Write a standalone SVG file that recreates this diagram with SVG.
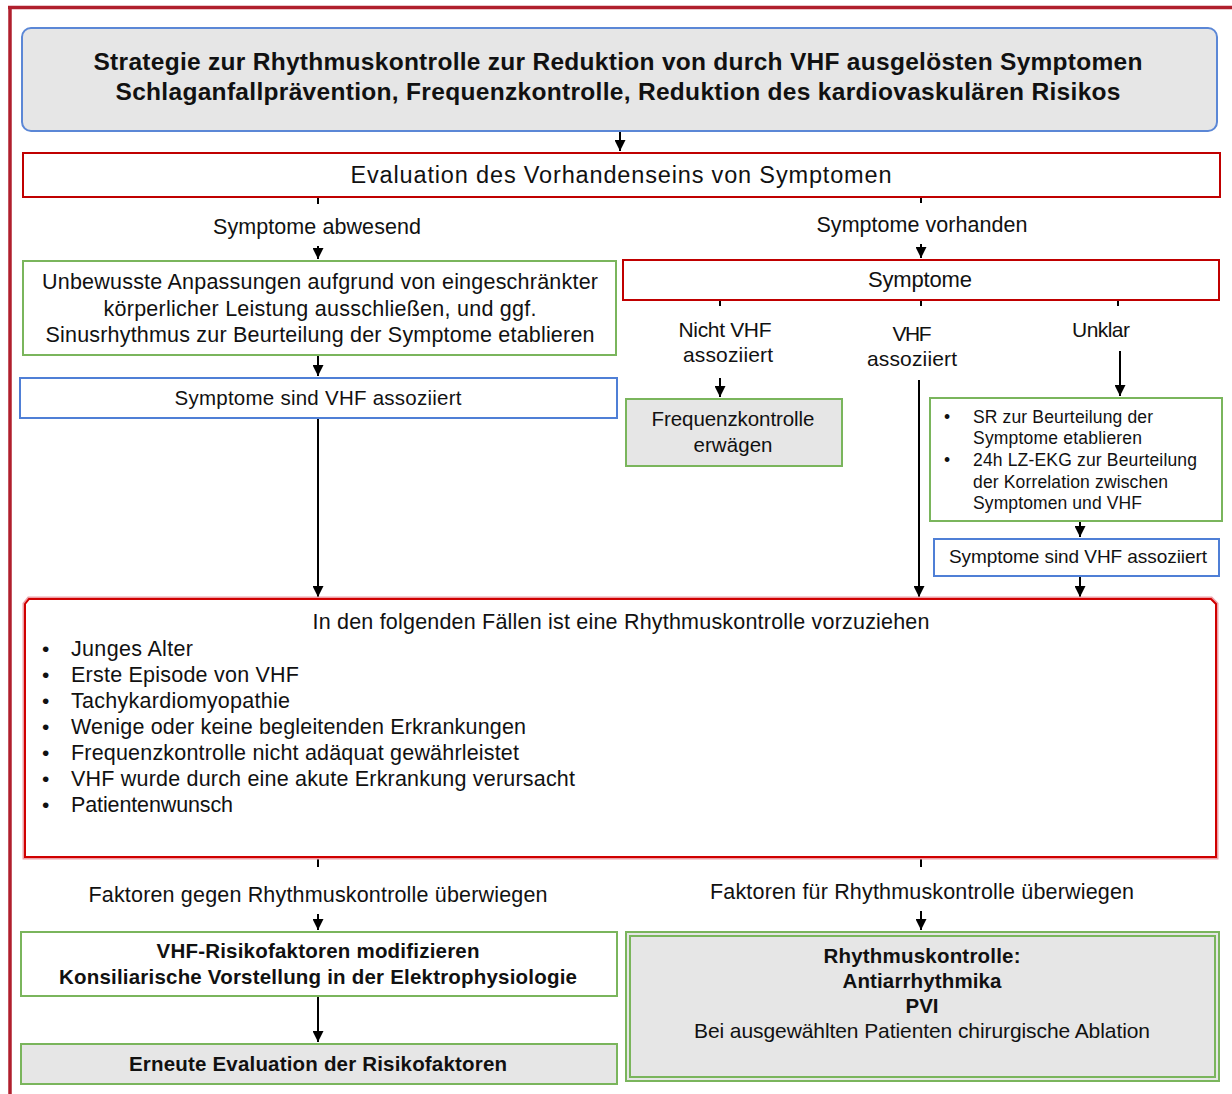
<svg xmlns="http://www.w3.org/2000/svg" width="1232" height="1094" viewBox="0 0 1232 1094">
<defs>
<style>
text{font-family:"Liberation Sans",Arial,sans-serif;fill:#111;}
.b{font-weight:bold;}
.c{text-anchor:middle;}
.red{fill:#fff;stroke:#c00000;stroke-width:2;}
.grn{fill:#fff;stroke:#7ab55c;stroke-width:2;}
.grng{fill:#e6e6e6;stroke:#7ab55c;stroke-width:2;}
.blu{fill:#fff;stroke:#4f7fd6;stroke-width:2;}
.con line{stroke:#000;stroke-width:2;}
.arr{marker-end:url(#ah);}
</style>
<marker id="ah" viewBox="0 0 10 10" refX="10" refY="5" markerWidth="11" markerHeight="11" markerUnits="userSpaceOnUse" orient="auto"><path d="M0,0 L10,5 L0,10 z" fill="#000"/></marker>
</defs>
<rect width="1232" height="1094" fill="#fff"/>
<g id="frame">
<line x1="8" y1="7.5" x2="1232" y2="7.5" stroke="#b01f2d" stroke-width="3.5"/>
<line x1="10" y1="6" x2="10" y2="1094" stroke="#b01f2d" stroke-width="3.5"/>
</g>
<g class="con">
<line class="arr" x1="620" y1="131" x2="620" y2="151"/>
<line x1="318" y1="197" x2="318" y2="204"/>
<line class="arr" x1="318" y1="246" x2="318" y2="259"/>
<line x1="921" y1="197" x2="921" y2="203"/>
<line class="arr" x1="921" y1="244" x2="921" y2="258"/>
<line class="arr" x1="318" y1="355" x2="318" y2="376"/>
<line class="arr" x1="318" y1="418" x2="318" y2="597"/>
<line x1="720" y1="300" x2="720" y2="306"/>
<line x1="921" y1="300" x2="921" y2="306"/>
<line x1="1118" y1="300" x2="1118" y2="306"/>
<line class="arr" x1="720" y1="378" x2="720" y2="397"/>
<line class="arr" x1="919" y1="380" x2="919" y2="597"/>
<line class="arr" x1="1120" y1="351" x2="1120" y2="396"/>
<line class="arr" x1="1080" y1="521" x2="1080" y2="537"/>
<line class="arr" x1="1080" y1="576" x2="1080" y2="597"/>
<line x1="318" y1="858" x2="318" y2="867"/>
<line x1="921" y1="858" x2="921" y2="867"/>
<line class="arr" x1="318" y1="914" x2="318" y2="930"/>
<line class="arr" x1="921" y1="911" x2="921" y2="930"/>
<line class="arr" x1="318" y1="996" x2="318" y2="1042"/>
</g>
<g id="n_top">
<rect x="22" y="28" width="1195" height="103" rx="9" fill="#e6e6e6" stroke="#5b87d6" stroke-width="2"/>
<text class="b c" x="618" y="70" font-size="24.5" textLength="1049">Strategie zur Rhythmuskontrolle zur Reduktion von durch VHF ausgelösten Symptomen</text>
<text class="b c" x="618" y="100" font-size="24.5" textLength="1005">Schlaganfallprävention, Frequenzkontrolle, Reduktion des kardiovaskulären Risikos</text>
</g>
<g id="n_eval">
<rect class="red" x="23" y="153" width="1197" height="44"/>
<text class="c" x="621" y="183" font-size="23.5" textLength="541">Evaluation des Vorhandenseins von Symptomen</text>
</g>
<g id="l_abwesend"><text class="c" x="317" y="234" font-size="21.5" textLength="208">Symptome abwesend</text></g>
<g id="l_vorhanden"><text class="c" x="922" y="232" font-size="21.5" textLength="211">Symptome vorhanden</text></g>
<g id="n_unbewusst">
<rect class="grn" x="23" y="261" width="593" height="94"/>
<text class="c" x="320" y="289" font-size="21.5" textLength="556">Unbewusste Anpassungen aufgrund von eingeschränkter</text>
<text class="c" x="320" y="316" font-size="21.5" textLength="433">körperlicher Leistung ausschließen, und ggf.</text>
<text class="c" x="320" y="342" font-size="21.5" textLength="549">Sinusrhythmus zur Beurteilung der Symptome etablieren</text>
</g>
<g id="n_assoz_l">
<rect class="blu" x="20" y="378" width="597" height="40"/>
<text class="c" x="318" y="405" font-size="20.5" textLength="287">Symptome sind VHF assoziiert</text>
</g>
<g id="n_symptome">
<rect class="red" x="623" y="260" width="596" height="40"/>
<text class="c" x="920" y="287" font-size="22" textLength="104">Symptome</text>
</g>
<g id="l_nicht">
<text class="c" x="725" y="337" font-size="21" textLength="93">Nicht VHF</text>
<text class="c" x="728" y="362" font-size="21" textLength="90">assoziiert</text>
</g>
<g id="l_vhf">
<text class="c" x="912" y="341" font-size="21" textLength="39">VHF</text>
<text class="c" x="912" y="366" font-size="21" textLength="90">assoziiert</text>
</g>
<g id="l_unklar"><text class="c" x="1101" y="337" font-size="21" textLength="58">Unklar</text></g>
<g id="n_freq">
<rect class="grng" x="626" y="399" width="216" height="67"/>
<text class="c" x="733" y="426" font-size="20.5" textLength="163">Frequenzkontrolle</text>
<text class="c" x="733" y="452" font-size="20.5" textLength="79">erwägen</text>
</g>
<g id="n_sr">
<rect class="grn" x="930" y="398" width="292" height="123"/>
<text x="944" y="423" font-size="17.5">•</text>
<text x="973" y="423" font-size="17.5" textLength="180">SR zur Beurteilung der</text>
<text x="973" y="444" font-size="17.5" textLength="169">Symptome etablieren</text>
<text x="944" y="466" font-size="17.5">•</text>
<text x="973" y="466" font-size="17.5" textLength="224">24h LZ-EKG zur Beurteilung</text>
<text x="973" y="488" font-size="17.5" textLength="195">der Korrelation zwischen</text>
<text x="973" y="509" font-size="17.5" textLength="169">Symptomen und VHF</text>
</g>
<g id="n_assoz_r">
<rect class="blu" x="934" y="539" width="285" height="37"/>
<text class="c" x="1078" y="563" font-size="19" textLength="258">Symptome sind VHF assoziiert</text>
</g>
<g id="n_faelle">
<path d="M25,604 L29,599 L1211,599 L1216,604 L1216,857 L25,857 Z" fill="none" stroke="#eea0a8" stroke-width="5"/>
<path d="M25,604 L29,599 L1211,599 L1216,604 L1216,857 L25,857 Z" fill="#fff" stroke="#d00000" stroke-width="2"/>
<text class="c" x="621" y="629" font-size="21.5" textLength="617">In den folgenden Fällen ist eine Rhythmuskontrolle vorzuziehen</text>
<text x="42" y="656" font-size="21">•</text><text x="71" y="656" font-size="21.5" textLength="122">Junges Alter</text>
<text x="42" y="682" font-size="21">•</text><text x="71" y="682" font-size="21.5" textLength="228">Erste Episode von VHF</text>
<text x="42" y="708" font-size="21">•</text><text x="71" y="708" font-size="21.5" textLength="219">Tachykardiomyopathie</text>
<text x="42" y="734" font-size="21">•</text><text x="71" y="734" font-size="21.5" textLength="455">Wenige oder keine begleitenden Erkrankungen</text>
<text x="42" y="760" font-size="21">•</text><text x="71" y="760" font-size="21.5" textLength="448">Frequenzkontrolle nicht adäquat gewährleistet</text>
<text x="42" y="786" font-size="21">•</text><text x="71" y="786" font-size="21.5" textLength="504">VHF wurde durch eine akute Erkrankung verursacht</text>
<text x="42" y="812" font-size="21">•</text><text x="71" y="812" font-size="21.5" textLength="162">Patientenwunsch</text>
</g>
<g id="l_gegen"><text class="c" x="318" y="902" font-size="21.5" textLength="459">Faktoren gegen Rhythmuskontrolle überwiegen</text></g>
<g id="l_fuer"><text class="c" x="922" y="899" font-size="21.5" textLength="424">Faktoren für Rhythmuskontrolle überwiegen</text></g>
<g id="n_modif">
<rect class="grn" x="21" y="932" width="596" height="64"/>
<text class="b c" x="318" y="958" font-size="20.5" textLength="323">VHF-Risikofaktoren modifizieren</text>
<text class="b c" x="318" y="984" font-size="20.5" textLength="518">Konsiliarische Vorstellung in der Elektrophysiologie</text>
</g>
<g id="n_erneut">
<rect class="grng" x="21" y="1044" width="596" height="40"/>
<text class="b c" x="318" y="1071" font-size="20.5" textLength="378">Erneute Evaluation der Risikofaktoren</text>
</g>
<g id="n_rhythmus">
<rect class="grng" x="626" y="932" width="593" height="149"/>
<rect x="630" y="936" width="585" height="141" fill="#e6e6e6" stroke="#7ab55c" stroke-width="2"/>
<text class="b c" x="922" y="963" font-size="20.5" textLength="197">Rhythmuskontrolle:</text>
<text class="b c" x="922" y="988" font-size="20.5" textLength="159">Antiarrhythmika</text>
<text class="b c" x="922" y="1013" font-size="20.5" textLength="33">PVI</text>
<text class="c" x="922" y="1038" font-size="21" textLength="456">Bei ausgewählten Patienten chirurgische Ablation</text>
</g>
</svg>
